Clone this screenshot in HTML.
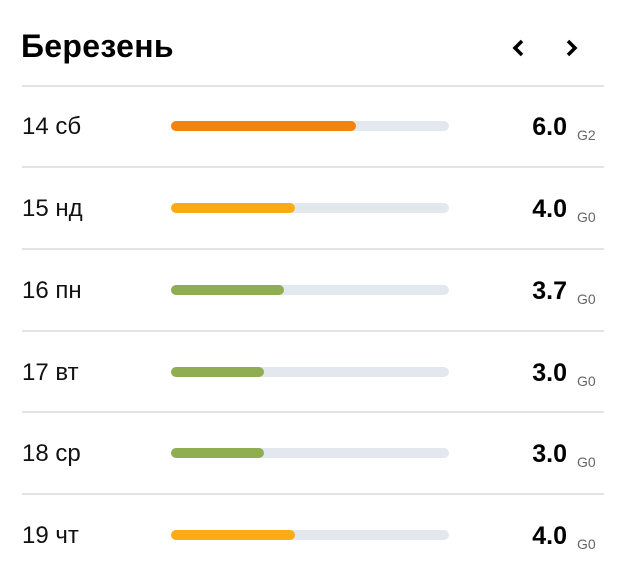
<!DOCTYPE html>
<html><head><meta charset="utf-8"><style>
body{margin:0;width:620px;height:568px;background:#fff;font-family:"Liberation Sans",sans-serif;position:relative;overflow:hidden}
.t{position:absolute;left:21px;top:28px;font-size:32px;font-weight:bold;color:#000;letter-spacing:0.3px}
.ch{position:absolute;top:37px;width:22px;height:22px}
.hr{position:absolute;left:22px;width:582px;height:2px;background:#e3e3e6}
.lab{position:absolute;left:22px;font-size:24px;color:#111}
.bar{position:absolute;left:171px;width:278px;height:10px;border-radius:5px;background:#e3e8ef}
.bar i{display:block;height:10px;border-radius:5px}
.v{position:absolute;right:53px;font-size:25px;font-weight:bold;color:#000}
.g{position:absolute;left:577px;font-size:14px;color:#666}
</style></head><body>
<div class="t">Березень</div>
<svg class="ch" style="left:507px" viewBox="0 0 22 22"><path d="M15 4 L8 11 L15 18" fill="none" stroke="#000" stroke-width="3.5"/></svg>
<svg class="ch" style="left:561px" viewBox="0 0 22 22"><path d="M7 4 L14 11 L7 18" fill="none" stroke="#000" stroke-width="3.5"/></svg>
<div class="hr" style="top:85px"></div>
<div class="hr" style="top:166px"></div>
<div class="hr" style="top:248px"></div>
<div class="hr" style="top:330px"></div>
<div class="hr" style="top:411px"></div>
<div class="hr" style="top:493px"></div>

<div class="lab" style="top:113px">14 сб</div>
<div class="bar" style="top:121px"><i style="width:185px;background:#f5820a"></i></div>
<div class="v" style="top:113px">6.0</div><div class="g" style="top:127px">G2</div>

<div class="lab" style="top:195px">15 нд</div>
<div class="bar" style="top:203px"><i style="width:124px;background:#fbab14"></i></div>
<div class="v" style="top:195px">4.0</div><div class="g" style="top:209px">G0</div>

<div class="lab" style="top:277px">16 пн</div>
<div class="bar" style="top:285px"><i style="width:113px;background:#8fae52"></i></div>
<div class="v" style="top:277px">3.7</div><div class="g" style="top:291px">G0</div>

<div class="lab" style="top:359px">17 вт</div>
<div class="bar" style="top:367px"><i style="width:93px;background:#8fae52"></i></div>
<div class="v" style="top:359px">3.0</div><div class="g" style="top:373px">G0</div>

<div class="lab" style="top:440px">18 ср</div>
<div class="bar" style="top:448px"><i style="width:93px;background:#8fae52"></i></div>
<div class="v" style="top:440px">3.0</div><div class="g" style="top:454px">G0</div>

<div class="lab" style="top:522px">19 чт</div>
<div class="bar" style="top:530px"><i style="width:124px;background:#fbab14"></i></div>
<div class="v" style="top:522px">4.0</div><div class="g" style="top:536px">G0</div>
</body></html>
